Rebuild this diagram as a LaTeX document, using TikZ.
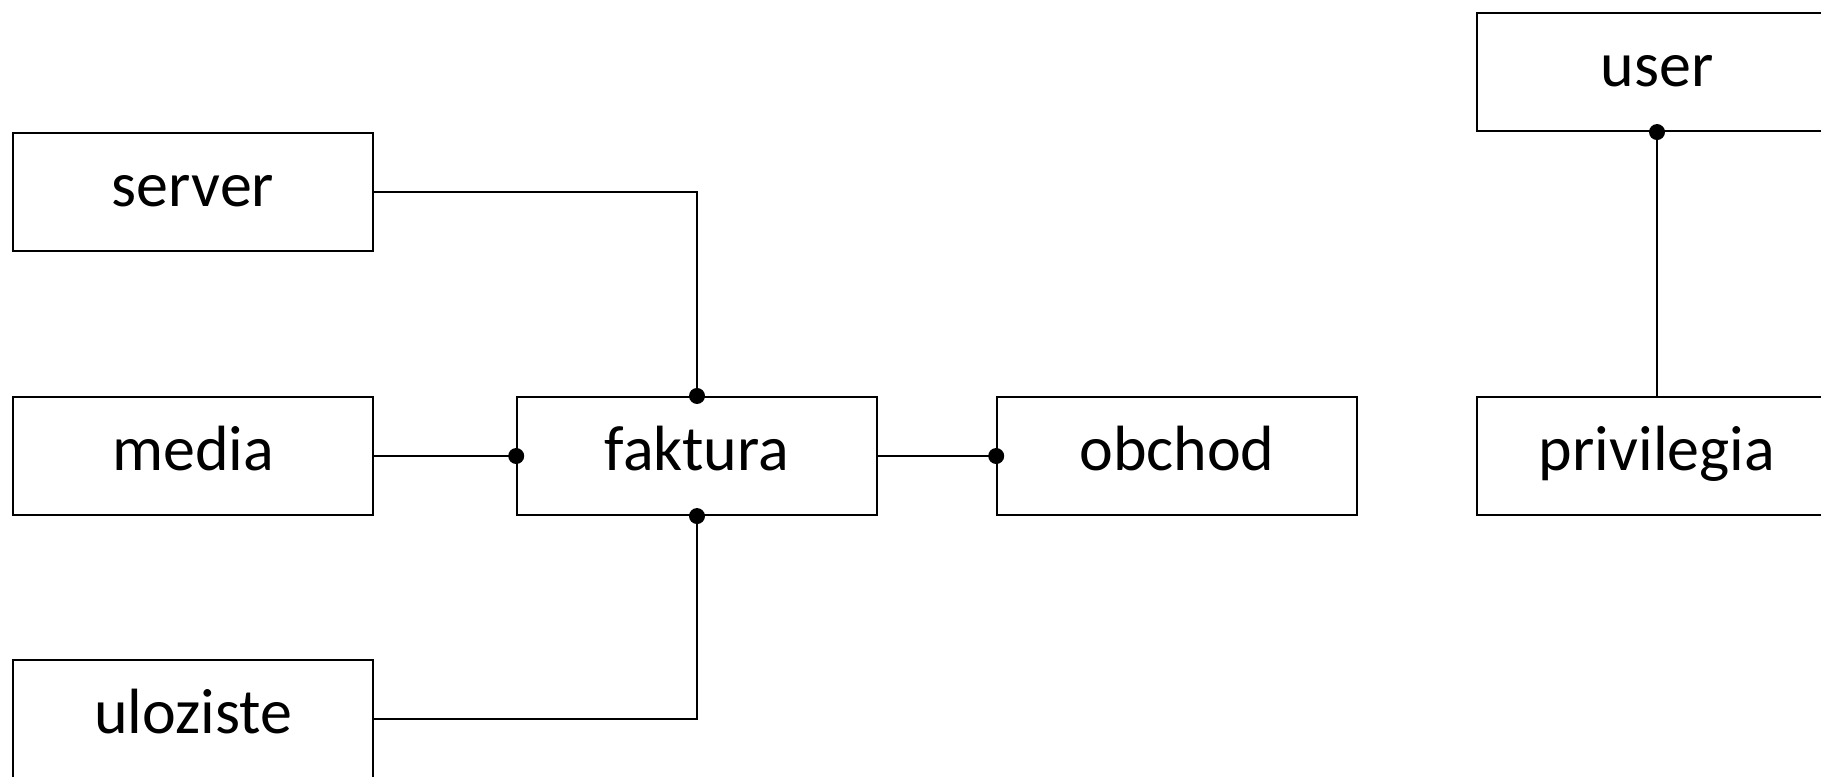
\documentclass[tikz,border=0pt]{standalone}
\usepackage{fontspec}
\setmainfont{Carlito}

\begin{document}
\begin{tikzpicture}
    % Define box size
    \def\boxwidth{3.6}
    \def\boxheight{1.185}
    \def\dotsize{0.08}

    \tikzset{
        entity/.style={draw, line width=0.45pt, minimum width=\boxwidth cm,
            minimum height=\boxheight cm, inner sep=0pt,
            text height=0.5cm, text depth=0.21cm,
            font=\fontsize{18.2}{20}\selectfont},
        link/.style={line width=0.45pt}
    }

    % Page size
    \useasboundingbox (0, 0) rectangle (18.21, -7.76);

    % Left column
    \node[entity] (server) at (1.93, -1.92) {server};
    \node[entity] (media) at (1.93, -4.56) {media};
    \node[entity] (uloziste) at (1.93, -7.19) {uloziste};

    % Middle row
    \node[entity] (faktura) at (6.97, -4.56) {faktura};
    \node[entity] (obchod) at (11.77, -4.56) {obchod};

    % Right column
    \node[entity] (user) at (16.57, -0.72) {user};
    \node[entity] (privilegia) at (16.57, -4.56) {privilegia};

    % Connectors
    \draw[link] (server.east) -| (faktura.north);
    \draw[link] (media.east) -- (faktura.west);
    \draw[link] (uloziste.east) -| (faktura.south);
    \draw[link] (faktura.east) -- (obchod.west);
    \draw[link] (user.south) -- (privilegia.north);

    % Dots
    \foreach \pt in {faktura.north, faktura.west, faktura.south, obchod.west, user.south} {
        \fill (\pt) circle (\dotsize);
    }

\end{tikzpicture}
\end{document}
